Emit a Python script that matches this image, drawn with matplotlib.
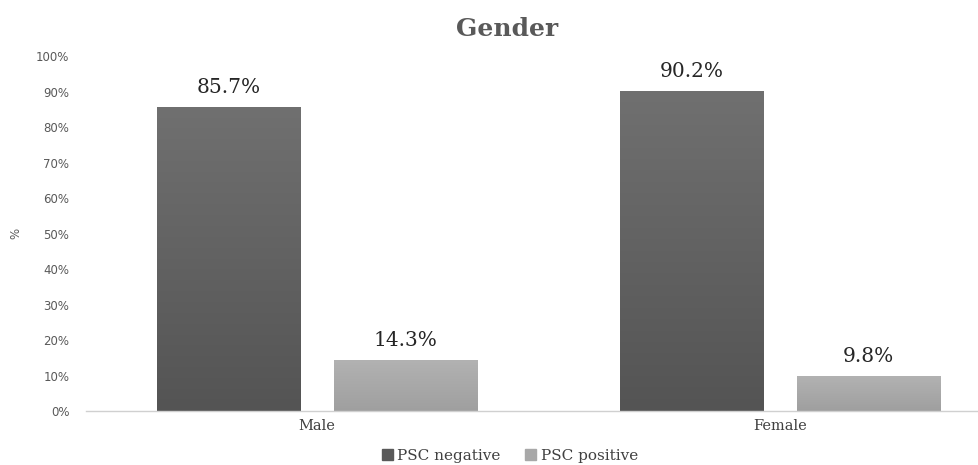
import matplotlib
matplotlib.use("Agg")
import matplotlib.pyplot as plt
import numpy as np
from matplotlib.colors import LinearSegmentedColormap

# data
categories = ["Male", "Female"]
psc_negative = [85.7, 90.2]
psc_positive = [14.3, 9.8]
series_names = ["PSC negative", "PSC positive"]
yticks = [0, 10, 20, 30, 40, 50, 60, 70, 80, 90, 100]

serif = "DejaVu Serif"
sans = "DejaVu Sans"


# fill a bar with a vertical gradient (darker at the bottom)
def shade_bar(ax, bar, top_color, bottom_color):
    x, y = bar.get_x(), bar.get_y()
    w, h = bar.get_width(), bar.get_height()
    cmap = LinearSegmentedColormap.from_list("g", [bottom_color, top_color])
    grad = np.linspace(0, 1, 256).reshape(-1, 1)
    im = ax.imshow(grad, cmap=cmap, origin="lower", aspect="auto",
                   extent=(x, x + w, y, y + h), zorder=bar.get_zorder())
    im.set_clip_path(bar)


fig = plt.figure(figsize=(9.79, 4.65), dpi=100)
ax = fig.add_axes([86 / 979, 54 / 465, 893 / 979, 355 / 465])

x = np.arange(len(categories))
width = 0.309
offset = 0.191

bars_neg = ax.bar(x - offset, psc_negative, width, color="#636363",
                  edgecolor="#d0d0d0", linewidth=0.6, label=series_names[0], zorder=2)
bars_pos = ax.bar(x + offset, psc_positive, width, color="#a8a8a8",
                  edgecolor="#e0e0e0", linewidth=0.6, label=series_names[1], zorder=2)

for b in bars_neg:
    shade_bar(ax, b, "#707070", "#545454")
for b in bars_pos:
    shade_bar(ax, b, "#b2b2b2", "#9f9f9f")

# value labels above bars
for bars, vals in ((bars_neg, psc_negative), (bars_pos, psc_positive)):
    for b, v in zip(bars, vals):
        ax.text(b.get_x() + b.get_width() / 2, v + 2.8, f"{v}%",
                ha="center", va="bottom", fontsize=14.5, family=serif, color="#262626")

ax.set_xlim(-0.499, 1.43)
ax.set_ylim(0, 100)
ax.set_yticks(yticks)
ax.set_yticklabels([f"{t}%" for t in yticks], fontsize=8.5, family=sans, color="#595959")
ax.set_xticks(x)
ax.set_xticklabels(categories, fontsize=10.5, family=serif, color="#404040")
ax.tick_params(axis="both", length=0)
ax.tick_params(axis="y", pad=12)
ax.tick_params(axis="x", pad=6)

for s in ["top", "right", "left"]:
    ax.spines[s].set_visible(False)
ax.spines["bottom"].set_color("#d0d0d0")
ax.spines["bottom"].set_linewidth(1)

ax.set_ylabel("%", fontsize=8.5, family=sans, color="#595959", labelpad=10)

fig.text(507 / 979, 1 - 29 / 465, "Gender", ha="center", va="center",
         fontsize=18, fontweight="bold", family=serif, color="#595959")

handles = [plt.Rectangle((0, 0), 1, 1, color="#595959"),
           plt.Rectangle((0, 0), 1, 1, color="#a8a8a8")]
fig.legend(handles, series_names, loc="center", bbox_to_anchor=(510 / 979, 1 - 456 / 465),
           ncol=2, frameon=False, prop={"family": serif, "size": 11},
           handlelength=0.7, handleheight=0.7, handletextpad=0.3, columnspacing=1.6,
           labelcolor="#404040")

fig.savefig("out.png", dpi=100)
